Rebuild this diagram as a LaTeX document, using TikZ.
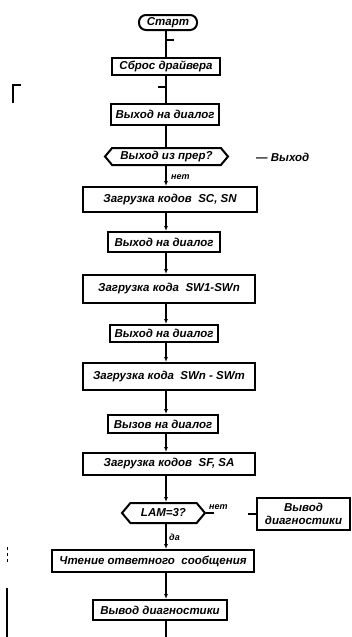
\documentclass[tikz,border=0pt]{standalone}
\usepackage{fontspec}
\setmainfont{Liberation Sans}
\usetikzlibrary{shapes.symbols,arrows.meta,calc}
\begin{document}
\begin{tikzpicture}[x=1pt,y=-1pt,
  txt/.style={font=\bfseries\itshape\fontsize{11.5}{12.5}\selectfont},
  box/.style={txt,draw,line width=2pt,inner sep=1pt,align=center},
  term/.style={box,rounded corners=7pt},
  dec/.style={box,signal,signal to=west and east,signal pointer angle=100},
  conn/.style={line width=2pt,-{Latex[length=5pt,width=4pt]}},
  plain/.style={line width=2pt},
  lbl/.style={inner sep=0pt,font=\bfseries\itshape\fontsize{9}{10}\selectfont}
]
\useasboundingbox (0,0) rectangle (352,637);
\coordinate (spine) at (166,0);
% nodes
\node[term,minimum width=58pt,minimum height=15pt] (start) at (168,22.5) {Старт};
\node[box,minimum width=108pt,minimum height=17pt] (sbros) at (166,66.5) {Сброс драйвера};
\node[box,minimum width=108pt,minimum height=21pt] (vyh1) at (165,114.5) {Выход на диалог};
\node[dec,minimum width=123pt,minimum height=17pt] (dec1) at (166.5,156.5) {Выход из прер?};
\node[txt,anchor=west,inner sep=0pt] (exit) at (256,157) {— Выход};
\node[box,minimum width=174pt,minimum height=25pt] (scsn) at (170,199.5) {Загрузка кодов \ SC, SN};
\node[box,minimum width=112pt,minimum height=20pt] (vyh2) at (164,242) {Выход на диалог};
\node[box,minimum width=172pt,minimum height=28pt] (sw1) at (169,289) {Загрузка кода \ SW1-SWn};
\node[box,minimum width=108pt,minimum height=17pt] (vyh3) at (164,333.5) {Выход на диалог};
\node[box,minimum width=172pt,minimum height=27pt] (swn) at (169,376.5) {Загрузка кода \ SWn - SWm};
\node[box,minimum width=110pt,minimum height=18pt] (vyh4) at (163,424) {Вызов на диалог};
\node[box,minimum width=172pt,minimum height=22pt] (sfsa) at (169,464) {Загрузка кодов \ SF, SA};
\node[dec,minimum width=83pt,minimum height=20pt] (lam) at (163.5,513) {LAM=3?};
\node[box,minimum width=93pt,minimum height=32pt] (diag1) at (303.5,514) {Вывод\\диагностики};
\node[box,minimum width=202pt,minimum height=22pt] (chten) at (153,561) {Чтение ответного \ сообщения};
\node[box,minimum width=134pt,minimum height=20pt] (diag2) at (160,610) {Вывод диагностики};
\coordinate (bottom) at (166,637);
% labels
\node[lbl,anchor=west] (net1) at (171,177) {нет};
\node[lbl,anchor=west] (net2) at (209,507) {нет};
\node[lbl,anchor=west] (da) at (169,537) {да};
% connectors
\draw[plain] (start.south -| spine) -- (sbros.north -| spine);
\draw[plain] (sbros.south -| spine) -- (vyh1.north -| spine);
\draw[plain] (vyh1.south -| spine) -- (dec1.north -| spine);
\draw[conn] (dec1.south -| spine) -- (scsn.north -| spine);
\draw[conn] (scsn.south -| spine) -- (vyh2.north -| spine);
\draw[conn] (vyh2.south -| spine) -- (sw1.north -| spine);
\draw[conn] (sw1.south -| spine) -- (vyh3.north -| spine);
\draw[conn] (vyh3.south -| spine) -- (swn.north -| spine);
\draw[conn] (swn.south -| spine) -- (vyh4.north -| spine);
\draw[conn] (vyh4.south -| spine) -- (sfsa.north -| spine);
\draw[conn] (sfsa.south -| spine) -- (lam.north -| spine);
\draw[conn] (lam.south -| spine) -- (chten.north -| spine);
\draw[conn] (chten.south -| spine) -- (diag2.north -| spine);
\draw[plain] (diag2.south -| spine) -- (bottom);
\draw[plain] (lam.east) -- ++(8,0);
\draw[plain] (diag1.west) -- ++(-8,0);
% tick marks on first connectors
\coordinate (t1) at (166,40);
\coordinate (t2) at (166,87);
\draw[plain] (t1) -- ++(8,0);
\draw[plain] (t2) -- ++(-8,0);
% scan marks at the left
\draw[line width=1.2pt] (13,103) -- (13,85) -- (21,85);
\draw[line width=1pt,dash pattern=on 3pt off 3pt] (7,547) -- (7,565);
\draw[line width=1.2pt] (7,588) -- (7,637);
\end{tikzpicture}
\end{document}
